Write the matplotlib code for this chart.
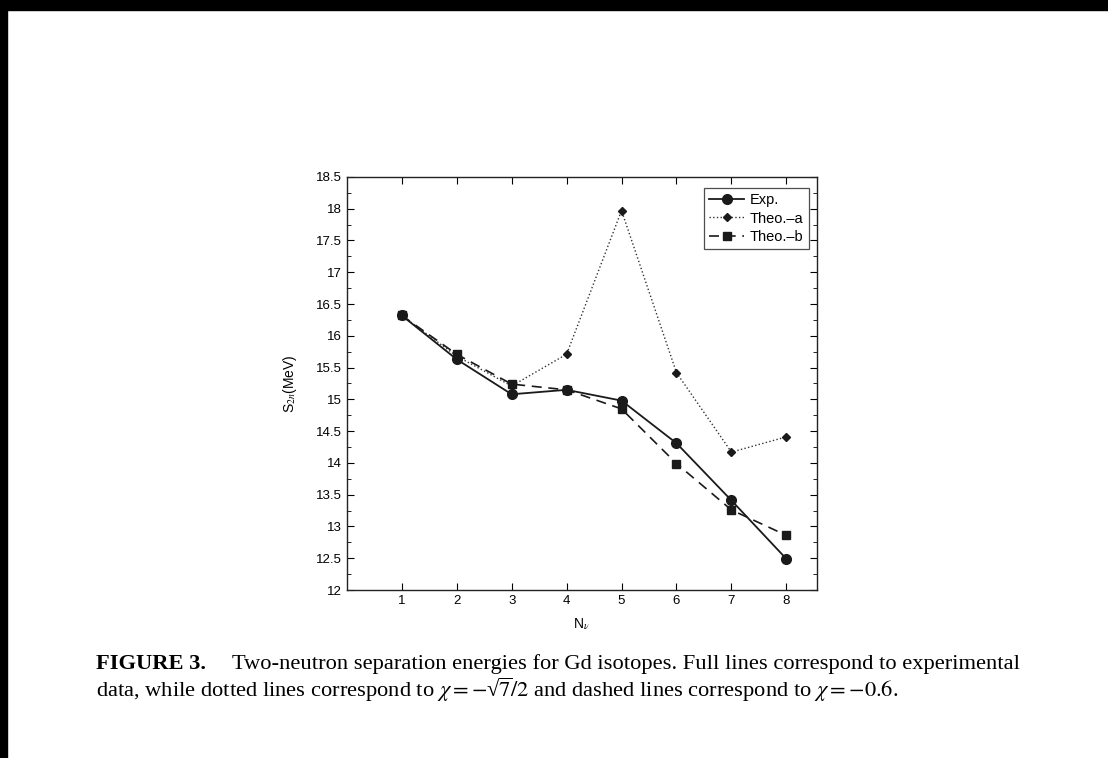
import numpy as np
import matplotlib
matplotlib.use("Agg")
import matplotlib.pyplot as plt
from matplotlib.ticker import MultipleLocator

# values
n_nu = [1, 2, 3, 4, 5, 6, 7, 8]
s2n_exp = [16.32, 15.63, 15.08, 15.15, 14.98, 14.31, 13.41, 12.49]
s2n_theo_a = [16.32, 15.68, 15.21, 15.71, 17.97, 15.42, 14.17, 14.41]
s2n_theo_b = [16.32, 15.71, 15.24, 15.15, 14.85, 13.99, 13.26, 12.86]
y_ticks = [12, 12.5, 13, 13.5, 14, 14.5, 15, 15.5, 16, 16.5, 17, 17.5, 18, 18.5]
y_tick_labels = ["12", "12.5", "13", "13.5", "14", "14.5", "15", "15.5",
                 "16", "16.5", "17", "17.5", "18", "18.5"]

plt.rcParams['font.family'] = ['Liberation Sans', 'DejaVu Sans']
plt.rcParams['mathtext.fontset'] = 'stix'

fig = plt.figure(figsize=(11.08, 7.58), dpi=100)
ax = fig.add_axes([0.313, 0.2216, 0.424, 0.545])

line_col = "#1a1a1a"
ax.plot(n_nu, s2n_exp, '-', color=line_col, lw=1.3, marker='o', ms=7,
        mfc=line_col, mec=line_col, label="Exp.", zorder=3)
ax.plot(n_nu, s2n_theo_a, ':', color="#333333", lw=1.0, marker='D', ms=4.5,
        mfc=line_col, mec=line_col, label="Theo.\u2013a", zorder=2)
ax.plot(n_nu, s2n_theo_b, '--', color=line_col, lw=1.2, dashes=(6, 4), marker='s',
        ms=5.5, mfc=line_col, mec=line_col, label="Theo.\u2013b", zorder=2)

ax.set_xlim(0, 8.55)
ax.set_ylim(12, 18.5)
ax.set_xticks(n_nu)
ax.set_yticks(y_ticks)
ax.set_yticklabels(y_tick_labels)
ax.yaxis.set_minor_locator(MultipleLocator(0.25))
ax.tick_params(direction='in', top=True, right=True, labelsize=9.5, length=5, width=0.8)
ax.tick_params(which='minor', direction='in', right=True, length=3, width=0.6)
for sp in ax.spines.values():
    sp.set_linewidth(1.0)
    sp.set_color("#222222")

ax.set_xlabel(r"N$_\nu$", fontsize=10, labelpad=7)
ax.set_ylabel(r"S$_{2n}$(MeV)", fontsize=10, labelpad=12)

leg = ax.legend(loc='upper right', bbox_to_anchor=(0.983, 0.973), fontsize=10.5,
                frameon=True, fancybox=False, edgecolor="#222222", borderaxespad=0,
                handlelength=2.4, handletextpad=0.4, labelspacing=0.3, borderpad=0.35)
leg.get_frame().set_linewidth(0.9)

# scanned page border (top and left)
fig.patches.append(plt.Rectangle((0, 0.987), 1, 0.013, transform=fig.transFigure,
                                 color='black', zorder=10))
fig.patches.append(plt.Rectangle((0, 0), 0.006, 1, transform=fig.transFigure,
                                 color='black', zorder=10))

# caption
serif = ['Liberation Serif', 'DejaVu Serif']
fig.text(0.0866, 0.1180, "FIGURE 3.", fontsize=16.2, fontweight='bold', family=serif,
         va='baseline')
fig.text(0.2094, 0.1180,
         "Two-neutron separation energies for Gd isotopes. Full lines correspond to experimental",
         fontsize=16.2, family=serif, va='baseline')
fig.text(0.0866, 0.0800,
         "data, while dotted lines correspond to " + r"$\chi = -$" + "\u221a"
         + r"$\overline{7}/2$" + " and dashed lines correspond to " + r"$\chi = -0.6$.",
         fontsize=16.2, family=serif, va='baseline')

fig.savefig("out.png", dpi=100)
